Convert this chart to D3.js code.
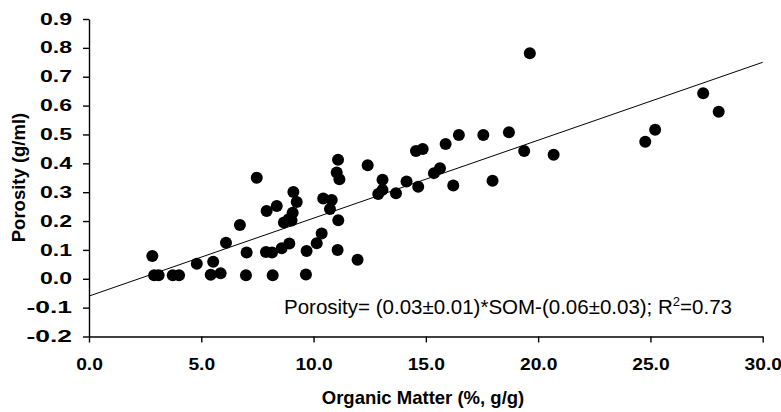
<!DOCTYPE html>
<html>
<head>
<meta charset="utf-8">
<script src="https://cdn.jsdelivr.net/npm/d3@7"></script>
<style>
  body { margin: 0; background: #fff; }
  svg { display: block; font-family: "Liberation Sans", Arial, sans-serif; }
</style>
</head>
<body>
<svg id="chart" width="781" height="412"></svg>
<script>
// organic matter (%, g/g) and porosity (g/ml)
var organicMatter = [2.82, 2.9, 3.1, 3.73, 4.01, 4.8, 5.53, 5.42, 5.86, 6.1,
  6.72, 7.02, 6.99, 7.47, 7.91, 8.36, 7.88, 8.15, 8.18, 8.58,
  8.92, 8.68, 8.89, 9.07, 9.02, 9.1, 9.25, 9.69, 9.66, 10.14,
  10.36, 10.43, 10.81, 10.73, 11.09, 11.03, 11.15, 11.1, 11.07, 11.96,
  12.41, 12.88, 13.07, 13.07, 13.67, 14.14, 14.66, 14.56, 14.86, 15.36,
  15.63, 15.88, 16.47, 16.22, 17.56, 17.97, 18.7, 19.38, 20.69, 19.63,
  27.35, 28.04, 25.21, 24.77]

var porosity = [0.079, 0.012, 0.012, 0.012, 0.012, 0.052, 0.059, 0.014, 0.019, 0.125,
  0.186, 0.091, 0.012, 0.35, 0.235, 0.252, 0.093, 0.091, 0.012, 0.106,
  0.122, 0.195, 0.206, 0.229, 0.202, 0.301, 0.266, 0.096, 0.015, 0.123,
  0.157, 0.278, 0.273, 0.242, 0.412, 0.368, 0.345, 0.203, 0.1, 0.066,
  0.393, 0.294, 0.343, 0.308, 0.296, 0.337, 0.319, 0.443, 0.45, 0.366,
  0.383, 0.467, 0.498, 0.323, 0.498, 0.34, 0.508, 0.443, 0.43, 0.781,
  0.643, 0.579, 0.516, 0.475]

// fitted line end points
var fitX = [0, 30]
var fitY = [-0.06, 0.75]

var xTicks = [0, 5, 10, 15, 20, 25, 30]
var yTicks = [-0.2, -0.1, 0, 0.1, 0.2, 0.3, 0.4, 0.5, 0.6, 0.7, 0.8, 0.9]

var svg = d3.select('#chart')

var x = d3.scaleLinear().domain([0, 30]).range([89, 762.7])
var y = d3.scaleLinear().domain([-0.2, 0.9]).range([336.5, 19])

// stretch bold tick labels a bit, they look wide in the original
function widen(sel, k) {
  sel.selectAll('text').each(function () {
    var w = this.getComputedTextLength()
    d3.select(this).attr('textLength', w * k).attr('lengthAdjust', 'spacingAndGlyphs')
  })
}

var xAxis = svg.append('g')
  .attr('transform', 'translate(0,' + y(-0.2) + ')')
  .call(d3.axisBottom(x).tickValues(xTicks).tickSize(6).tickPadding(16).tickSizeOuter(0)
    .tickFormat(d3.format('.1f')))

var yAxis = svg.append('g')
  .attr('transform', 'translate(' + x(0) + ',0)')
  .call(d3.axisLeft(y).tickValues(yTicks).tickSize(6).tickPadding(11).tickSizeOuter(0)
    .tickFormat(d3.format('.1f')))

;[xAxis, yAxis].forEach(function (g) {
  g.selectAll('path, line').attr('stroke', '#000').attr('stroke-width', 1.4)
  g.selectAll('text')
    .attr('fill', '#000')
    .style('font-size', '16px')
    .style('font-weight', 'bold')
    .style('font-family', '"Liberation Sans", Arial, sans-serif')
  widen(g, 1.2)
})
// the axis draws "-0.2" with a unicode minus; use a plain hyphen like the picture
yAxis.selectAll('text').text(function (d) { return d3.format('.1f')(d).replace('\u2212', '-') })
widen(yAxis, 1.2)

// fitted line
svg.append('line')
  .attr('x1', x(fitX[0])).attr('y1', y(fitY[0]))
  .attr('x2', x(fitX[1])).attr('y2', y(fitY[1]))
  .attr('stroke', '#000')
  .attr('stroke-width', 1)

// points
svg.append('g').selectAll('circle')
  .data(organicMatter)
  .enter().append('circle')
  .attr('cx', function (d) { return x(d) })
  .attr('cy', function (d, i) { return y(porosity[i]) })
  .attr('r', 6)
  .attr('fill', '#000')

// equation
var eq = svg.append('text')
  .attr('x', 284)
  .attr('y', 314)
  .style('font-size', '20.5px')
  .attr('fill', '#000')
eq.append('tspan').text('Porosity= (0.03\u00b10.01)*SOM-(0.06\u00b10.03); R')
eq.append('tspan').attr('dy', -8).style('font-size', '13px').text('2')
eq.append('tspan').attr('dy', 8).text('=0.73')

// axis titles
svg.append('text')
  .attr('x', 423)
  .attr('y', 404)
  .attr('text-anchor', 'middle')
  .style('font-size', '18.5px')
  .style('font-weight', 'bold')
  .text('Organic Matter (%, g/g)')

svg.append('text')
  .attr('transform', 'translate(25,177.5) rotate(-90)')
  .attr('text-anchor', 'middle')
  .style('font-size', '18.5px')
  .style('font-weight', 'bold')
  .text('Porosity (g/ml)')
</script>
</body>
</html>
